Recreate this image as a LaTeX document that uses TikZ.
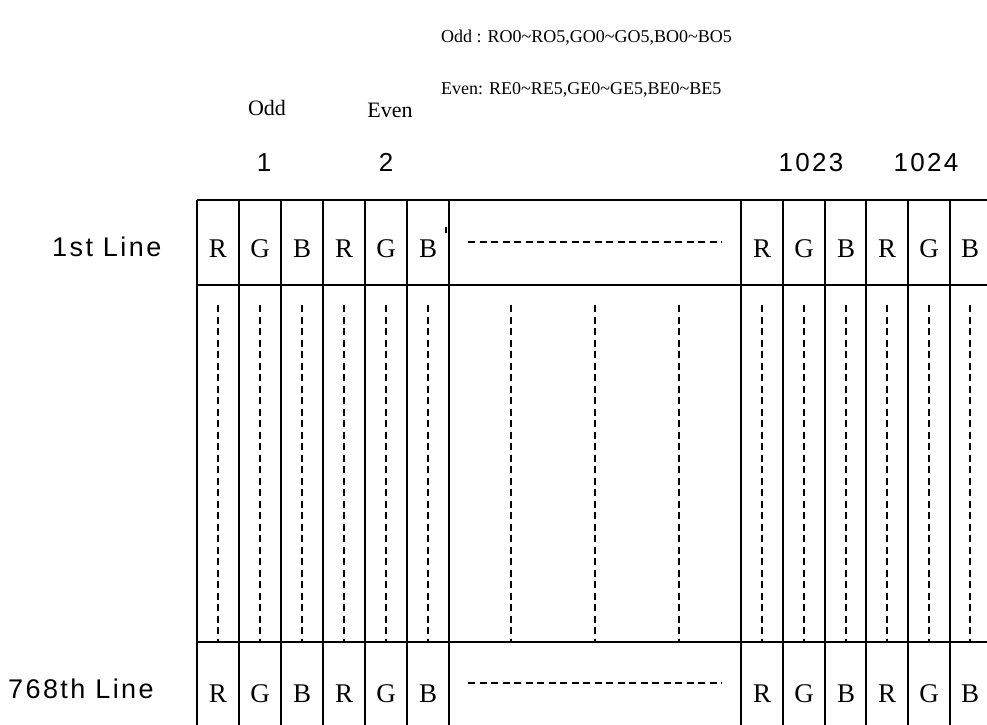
\documentclass[tikz,border=0pt]{standalone}
\usepackage{fontspec}
\setmainfont{Liberation Serif}
\newfontfamily\lblsans[LetterSpace=9]{Liberation Sans}
\begin{document}
\begin{tikzpicture}[x=1pt,y=-1pt,
  cellt/.style={font=\fontsize{27}{27}\selectfont, inner sep=0pt, anchor=base},
  toptext/.style={font=\fontsize{18}{18}\selectfont, inner sep=0pt, anchor=base west},
  coltext/.style={font=\fontsize{22}{22}\selectfont, inner sep=0pt, anchor=base},
  numtext/.style={font=\lblsans\fontsize{26}{26}\selectfont, inner sep=0pt, anchor=base},
  linetext/.style={font=\lblsans\fontsize{27}{27}\selectfont, inner sep=0pt, anchor=base west},
  gridline/.style={line width=1.6pt},
  dashv/.style={line width=1.4pt, dash pattern=on 7pt off 4.5pt},
  dashh/.style={line width=1.3pt, dash pattern=on 7pt off 4.5pt}]
\useasboundingbox (0,0) rectangle (987,724);
% top texts
\node[toptext] (oddtxt) at (441,42) {Odd : RO0\textasciitilde RO5,GO0\textasciitilde GO5,BO0\textasciitilde BO5};
\node[toptext] (eventxt) at (441,94) {Even: RE0\textasciitilde RE5,GE0\textasciitilde GE5,BE0\textasciitilde BE5};
\node[coltext] (oddlbl) at (267,115) {Odd};
\node[coltext] (evenlbl) at (390,117) {Even};
\node[numtext] (n1) at (264,171) {1};
\node[numtext] (n2) at (386,171) {2};
\node[numtext] (n1023) at (811,171) {1023};
\node[numtext] (n1024) at (926,171) {1024};
\node[linetext] (l1) at (52,256) {1st Line};
\node[linetext] (l768) at (8,698) {768th Line};
% grid
\draw[gridline] (197,200) -- (990,200);
\draw[gridline] (197,285) -- (990,285);
\draw[gridline] (197,642) -- (990,642);
\foreach \x in {197,239,281,323,365,407,449,741,783,825,866,908,950}
  \draw[gridline] (\x,200) -- (\x,730);
% small tick
\draw[line width=2pt] (446,227) -- (446,233);
% cell letters
\foreach \x/\t [count=\i] in {218/R,260/G,302/B,344/R,386/G,428/B,762/R,804/G,846/B,887/R,929/G,970/B} {
  \node[cellt] (top\i) at (\x,257) {\t};
  \node[cellt] (bot\i) at (\x,702) {\t};
  \draw[dashv] (\x,305) -- (\x,642);
}
\foreach \x in {511,595,679}
  \draw[dashv] (\x,305) -- (\x,642);
\draw[dashh] (468,242) -- (722,242);
\draw[dashh] (468,683) -- (722,683);
\end{tikzpicture}
\end{document}
